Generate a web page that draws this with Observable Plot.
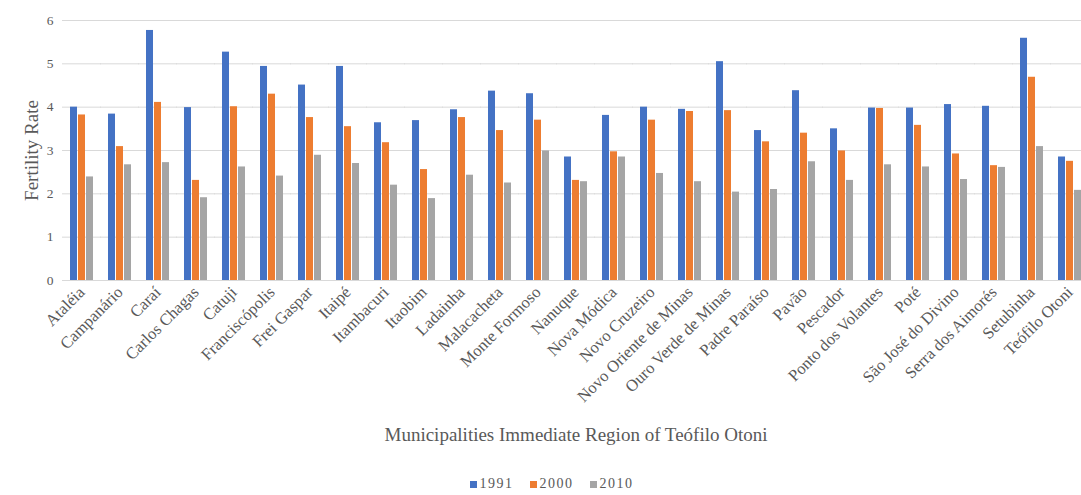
<!DOCTYPE html>
<html>
<head>
<meta charset="utf-8">
<script src="https://cdn.jsdelivr.net/npm/d3@7"></script>
<script src="https://cdn.jsdelivr.net/npm/@observablehq/plot@0.6"></script>
<style>
  html, body { margin: 0; padding: 0; background: #fff; overflow: hidden; }
  #chart { width: 1091px; height: 450px; }
  #legend { width: 1081px; box-sizing: border-box; padding-left: 22px; display: flex; justify-content: center; align-items: center; gap: 16px;
    font-family: "Liberation Serif", "DejaVu Serif", serif; font-size: 14px; color: #595959; margin-top: 26px; }
  .item { display: flex; align-items: center; gap: 3px; letter-spacing: 1.5px; }
  .sw { width: 7px; height: 7px; display: inline-block; }
  #chart svg text { font-family: "Liberation Serif", "DejaVu Serif", serif; }
</style>
</head>
<body>
<div id="chart"></div>
<div id="legend"></div>
<script>
const municipalities = ["Ataléia","Campanário","Caraí","Carlos Chagas","Catuji","Franciscópolis","Frei Gaspar","Itaipé","Itambacuri","Itaobim","Ladainha","Malacacheta","Monte Formoso","Nanuque","Nova Módica","Novo Cruzeiro","Novo Oriente de Minas","Ouro Verde de Minas","Padre Paraíso","Pavão","Pescador","Ponto dos Volantes","Poté","São José do Divino","Serra dos Aimorés","Setubinha","Teófilo Otoni"];
const years = ["1991", "2000", "2010"];
const rate1991 = [4.00, 3.84, 5.77, 3.99, 5.27, 4.94, 4.51, 4.94, 3.64, 3.69, 3.94, 4.37, 4.31, 2.85, 3.81, 4.00, 3.95, 5.05, 3.46, 4.38, 3.50, 3.98, 3.98, 4.06, 4.02, 5.59, 2.85];
const rate2000 = [3.82, 3.09, 4.11, 2.31, 4.01, 4.30, 3.76, 3.55, 3.18, 2.56, 3.76, 3.46, 3.70, 2.31, 2.97, 3.70, 3.90, 3.92, 3.20, 3.40, 2.99, 3.97, 3.58, 2.92, 2.65, 4.69, 2.75];
const rate2010 = [2.39, 2.67, 2.72, 1.91, 2.62, 2.41, 2.89, 2.70, 2.20, 1.89, 2.43, 2.25, 2.99, 2.28, 2.85, 2.47, 2.28, 2.04, 2.10, 2.74, 2.31, 2.67, 2.62, 2.33, 2.61, 3.09, 2.08];
const yTicks = [0, 1, 2, 3, 4, 5, 6];
const colors = ["#4472C4", "#ED7D31", "#A5A5A5"];
const xTitle = "Municipalities Immediate Region of Teófilo Otoni";
const yTitle = "Fertility Rate";

const series = [rate1991, rate2000, rate2010];
const data = municipalities.flatMap((m, i) => years.map((y, j) => ({m, year: y, v: series[j][i]})));

const font = "'Liberation Serif', 'DejaVu Serif', serif";
const plot = Plot.plot({
  width: 1091,
  height: 450,
  marginLeft: 60,
  marginRight: 0,
  marginTop: 20,
  marginBottom: 170,
  style: {fontFamily: font, background: "#fff", color: "#595959"},
  fx: {domain: municipalities, paddingInner: 0.35, paddingOuter: 0.175},
  x: {domain: years, axis: null, padding: 0.1},
  y: {domain: [0, 6]},
  color: {domain: years, range: colors},
  marks: [
    Plot.ruleY(yTicks, {y: d => d, stroke: "#d9d9d9", strokeWidth: 1, insetLeft: -7, insetRight: -7}),
    Plot.barY(data, {fx: "m", x: "year", y: "v", fill: "year"}),
    Plot.axisY({ticks: yTicks, tickFormat: "d", tickSize: 0, tickPadding: 16, fontSize: 13.5, fill: "#595959",
      label: yTitle, labelAnchor: "center", labelOffset: 45, labelArrow: false}),
    Plot.axisFx({anchor: "bottom", tickRotate: -45, tickSize: 0, tickPadding: 9, fontSize: 16.5,
      fill: "#595959", label: null}),
    Plot.axisFx({anchor: "bottom", ticks: [], tickSize: 0, fontSize: 19, fill: "#595959",
      label: xTitle, labelAnchor: "center", labelOffset: 160})
  ]
});
plot.querySelectorAll("text").forEach(t => { if (t.textContent === yTitle) t.setAttribute("font-size", 19); });
document.getElementById("chart").appendChild(plot);

const legend = document.getElementById("legend");
years.forEach((y, i) => {
  const item = document.createElement("span");
  item.className = "item";
  const sw = document.createElement("span");
  sw.className = "sw";
  sw.style.background = colors[i];
  item.appendChild(sw);
  item.appendChild(document.createTextNode(y));
  legend.appendChild(item);
});
</script>
</body>
</html>
